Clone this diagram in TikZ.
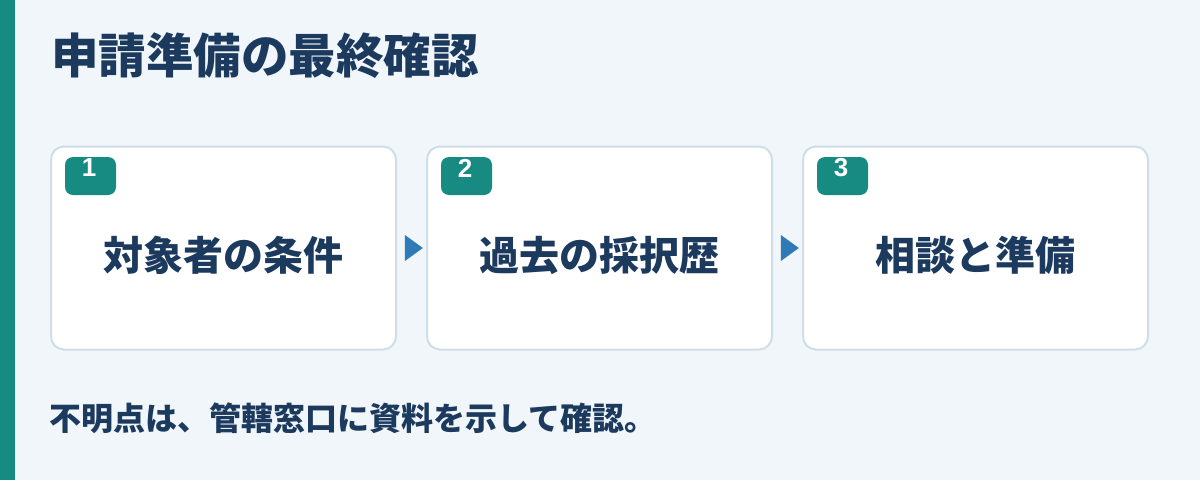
\documentclass[tikz,border=0pt]{standalone}
\usepackage{fontspec}
\setmainfont{Noto Sans CJK JP}
\newfontfamily\numfont{Liberation Sans}
\usetikzlibrary{shapes.geometric,calc}
\definecolor{bg}{HTML}{F1F6FA}
\definecolor{teal}{HTML}{178A82}
\definecolor{navy}{HTML}{1C3A5E}
\definecolor{arrowblue}{HTML}{2E7BB8}
\definecolor{boxline}{HTML}{CFDDE6}
\tikzset{
  stepbox/.style={draw=boxline, line width=2pt, fill=white, rounded corners=13pt, minimum width=345pt, minimum height=203pt, inner sep=0pt},
  badge/.style={fill=teal, rounded corners=8pt, minimum width=51pt, minimum height=38pt, inner sep=0pt},
  badgenum/.style={text=white, font=\numfont\fontsize{26}{26}\selectfont\bfseries, inner sep=0pt},
  steptext/.style={text=navy, font=\fontsize{40}{40}\selectfont\bfseries, inner sep=0pt},
  flowtri/.style={isosceles triangle, isosceles triangle apex angle=72, fill=arrowblue, inner sep=0pt, minimum height=18pt, minimum width=21pt}
}
\begin{document}
\begin{tikzpicture}[x=1pt,y=-1pt]
\useasboundingbox (0,0) rectangle (1200,480);
\fill[bg] (0,0) rectangle (1200,480);
\fill[teal] (0,0) rectangle (15,480);
\node[anchor=west, text=navy, font=\fontsize{47.5}{47.5}\selectfont\bfseries, inner sep=0pt] (title) at (51,56) {申請準備の最終確認};
\node[stepbox] (b1) at (223.5,248) {};
\node[stepbox] (b2) at (599.5,248) {};
\node[stepbox] (b3) at (975.5,248) {};
\node[badge] (g1) at (90.5,176) {};
\node[badge] (g2) at (466.5,176) {};
\node[badge] (g3) at (842.5,176) {};
\node[badgenum] (n1) at (89,168) {1};
\node[badgenum] (n2) at (465,168) {2};
\node[badgenum] (n3) at (841,168) {3};
\node[steptext] (t1) at (223.5,255) {対象者の条件};
\node[steptext] (t2) at (599.5,255) {過去の採択歴};
\node[steptext] (t3) at (975.5,255) {相談と準備};
\node[flowtri] (a1) at ($(b1.east)!0.5!(b2.west)$) {};
\node[flowtri] (a2) at ($(b2.east)!0.5!(b3.west)$) {};
\node[anchor=west, text=navy, font=\fontsize{32}{32}\selectfont\bfseries, inner sep=0pt] (note) at (49,418) {不明点は、管轄窓口に資料を示して確認。};
\end{tikzpicture}
\end{document}
